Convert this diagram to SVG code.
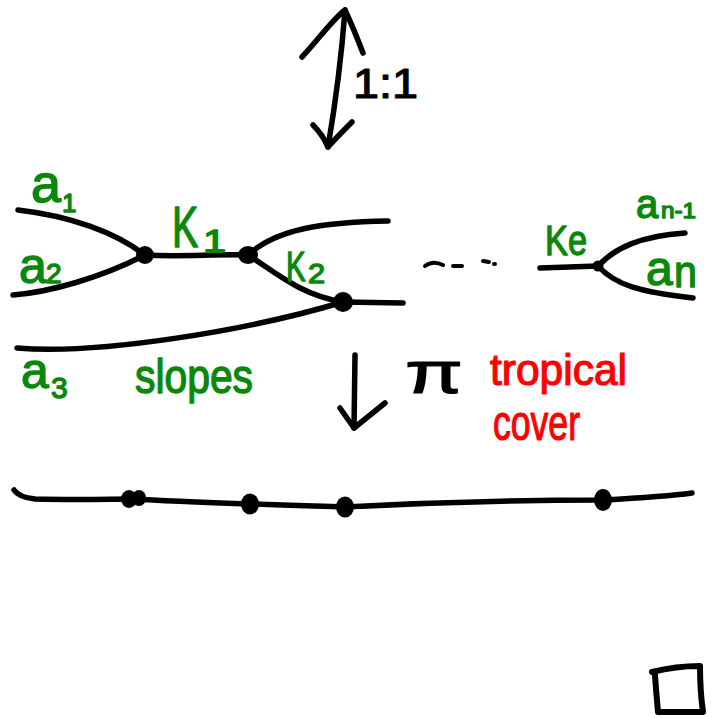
<svg xmlns="http://www.w3.org/2000/svg" width="716" height="718" viewBox="0 0 716 718">
<style>
.ln{fill:none;stroke:#000;stroke-width:5.5;stroke-linecap:round;stroke-linejoin:round}
.thin{fill:none;stroke:#000;stroke-width:4;stroke-linecap:round}
.dot{fill:#000}
.g{fill:#0a880a;stroke:#0a880a;stroke-width:1.4;stroke-linejoin:round;font-family:"Liberation Sans",Arial,sans-serif}
.r{fill:#ff0000;stroke:#ff0000;stroke-width:1.2;stroke-linejoin:round;font-family:"Liberation Sans",Arial,sans-serif}
.k{fill:#000;stroke:#000;stroke-width:1.2;stroke-linejoin:round;font-family:"Liberation Sans",Arial,sans-serif}
</style>
<rect width="716" height="718" fill="#fff"/>
<g id="connectors">
  <path class="ln" d="M18,210 C70,216 115,232 145,255"/>
  <path class="ln" d="M13,295 C50,292 100,278 145,255"/>
  <path class="ln" d="M145,255 C180,257 215,254 248,255"/>
  <path class="ln" d="M248,255 C275,230 320,222 388,221"/>
  <path class="ln" d="M248,255 C275,272 300,295 343,302"/>
  <path class="ln" d="M343,302 L403,303"/>
  <path class="ln" d="M17,348 C100,355 250,330 343,302"/>
  <path class="ln" d="M540,268 L598,266"/>
  <path class="ln" d="M598,266 C615,248 640,236 685,233"/>
  <path class="ln" d="M598,266 C615,285 640,292 693,298"/>
  <path class="thin" d="M425,266 Q433,260 443,265 M453,266 L462,266 M483,261 L489,262 M494,264 L495,264"/>
  <path class="ln" d="M14,490 C18,496 25,498 35,499 C80,500 110,499 133,499 C180,502 250,504 345,507 C420,503 520,500 603,500 C640,498 670,496 692,493"/>
</g>
<g id="bijection-arrow">
  <path class="ln" d="M345,10 C342,50 336,100 328,147"/>
  <path class="ln" d="M302,57 C318,40 332,20 345,10 C352,25 358,40 363,53"/>
  <path class="ln" d="M313,125 C320,132 325,140 328,147 C336,138 344,130 352,122"/>
  <text class="k" x="353" y="98" font-size="42" textLength="65" lengthAdjust="spacingAndGlyphs">1:1</text>
</g>
<g id="projection-arrow">
  <path class="ln" d="M355,355 L354,428"/>
  <path class="ln" d="M340,408 L354,428 L385,403"/>
  <text class="k" x="405" y="393" font-size="60" textLength="58" lengthAdjust="spacingAndGlyphs">π</text>
</g>
<g id="tropical-cover-label">
  <text class="r" x="490" y="385" font-size="44" textLength="137" lengthAdjust="spacingAndGlyphs">tropical</text>
  <text class="r" x="493" y="440" font-size="50" textLength="87" lengthAdjust="spacingAndGlyphs">cover</text>
</g>
<g id="v1"><circle class="dot" cx="145" cy="255" r="9"/></g>
<g id="v2"><ellipse class="dot" cx="248" cy="255" rx="10" ry="9"/></g>
<g id="v3"><circle class="dot" cx="343" cy="302" r="10"/></g>
<g id="vl"><circle class="dot" cx="598" cy="266" r="5.5"/></g>
<g id="label-a1">
  <text class="g" font-size="54"><tspan x="31" y="202">a</tspan><tspan x="62" y="212" font-size="26">1</tspan></text>
</g>
<g id="label-a2">
  <text class="g" font-size="50"><tspan x="19" y="283">a</tspan><tspan x="46" y="283" font-size="28">2</tspan></text>
</g>
<g id="label-a3">
  <text class="g" font-size="50"><tspan x="21" y="388">a</tspan><tspan x="51" y="398" font-size="30">3</tspan></text>
</g>
<g id="label-K1">
  <text class="g" font-size="58" transform="translate(172,247) scale(0.68,1)">K</text>
  <text class="g" font-size="32" transform="translate(203,252) scale(1.3,1)">1</text>
</g>
<g id="label-K2">
  <text class="g" font-size="42" transform="translate(286,281) scale(0.7,1)">K</text>
  <text class="g" font-size="28" transform="translate(308,283) scale(1.1,1)">2</text>
</g>
<g id="label-slopes">
  <text class="g" x="135" y="393" font-size="48" textLength="118" lengthAdjust="spacingAndGlyphs">slopes</text>
</g>
<g id="label-Kl">
  <text class="g" x="545" y="255" font-size="42" textLength="42" lengthAdjust="spacingAndGlyphs">Ke</text>
</g>
<g id="label-an-1">
  <text class="g" font-size="40"><tspan x="636" y="218">a</tspan><tspan x="661" y="218" font-size="22" textLength="35" lengthAdjust="spacingAndGlyphs">n-1</tspan></text>
</g>
<g id="label-an">
  <text class="g" font-size="48"><tspan x="646" y="285">a</tspan><tspan x="674" y="287" font-size="44" textLength="23" lengthAdjust="spacingAndGlyphs">n</tspan></text>
</g>
<g id="b1"><ellipse class="dot" cx="129" cy="499" rx="8" ry="9"/><ellipse class="dot" cx="139" cy="498" rx="7" ry="8"/></g>
<g id="b2"><ellipse class="dot" cx="250" cy="504" rx="9" ry="10.5"/></g>
<g id="b3"><ellipse class="dot" cx="345" cy="507" rx="9" ry="10.5"/></g>
<g id="b4"><ellipse class="dot" cx="603" cy="500" rx="9" ry="11"/></g>
<g id="end-square">
  <path class="ln" style="stroke-width:6" d="M652,672 C668,668 685,666 700,666 C700,680 701,698 703,712 C688,712 672,712 658,712 C657,700 656,690 655,675"/>
</g>
</svg>
